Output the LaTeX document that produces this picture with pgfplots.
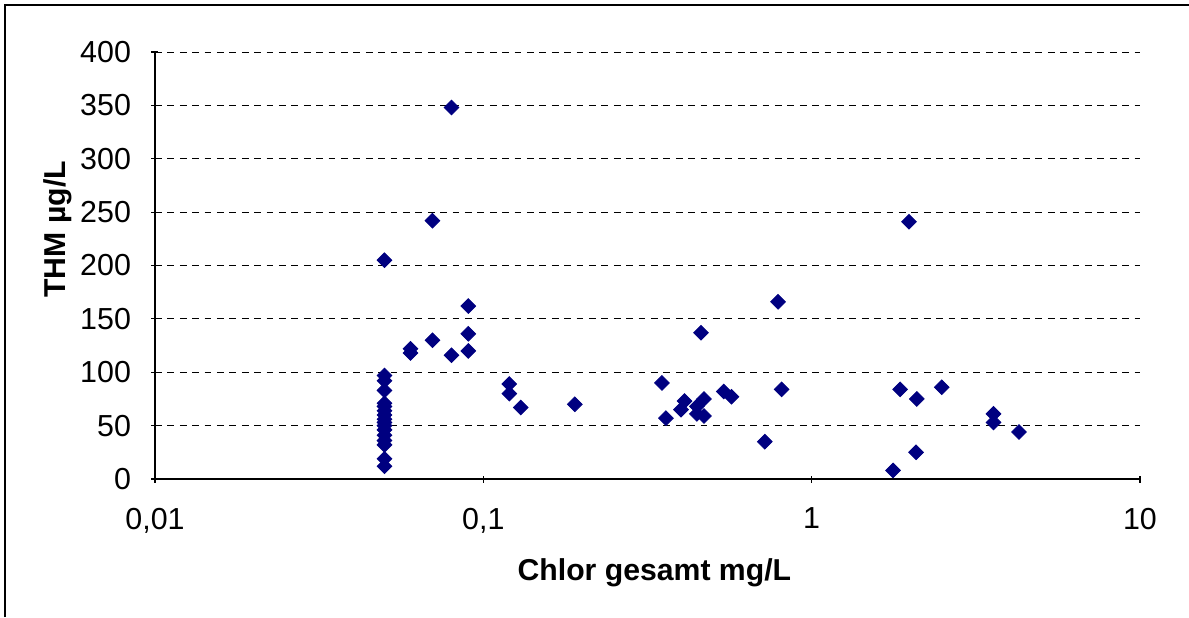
\documentclass[border=0pt]{standalone}
\usepackage{pgfplots}
\pgfplotsset{compat=1.18}
\usepackage{fontspec}
\setmainfont{Liberation Sans}
\definecolor{navy}{RGB}{0,0,128}
\begin{document}
\begin{tikzpicture}[x=0.5pt,y=0.5pt]
\useasboundingbox (-155,-138) rectangle (1034,479);
\draw[line width=0.8pt] (-150,-138) -- (-150,474) -- (1034,474);
\begin{axis}[
  at={(0pt,0pt)}, anchor=south west,
  scale only axis, width=492.5pt, height=213.5pt,
  xmode=log, xmin=0.01, xmax=10, ymin=0, ymax=400,
  xtick={0.01,0.1,1,10}, xticklabels={{0,01},{0,1},1,10},
  xminorticks=false,
  ytick={0,50,...,400},
  /pgf/number format/assume math mode=true,
  axis x line*=bottom, axis y line*=left,
  axis line style={-, line width=0.6pt},
  tick style={black, line width=0.6pt},
  major tick length=3.5pt,
  xtick pos=bottom, ytick pos=left,
  x tick style={yshift=-1.75pt},
  y tick style={xshift=-1.75pt},
  ymajorgrids, major grid style={black, line width=0.5pt, dash pattern=on 3.4pt off 2.8pt},
  tick label style={font=\fontsize{15.2}{17}\selectfont},
  xticklabel style={yshift=-11pt},
  yticklabel style={xshift=-8.5pt},
  xlabel={\bfseries Chlor gesamt mg/L},
  ylabel={\bfseries THM µg/L},
  label style={font=\fontsize{15.1}{17}\selectfont},
  xlabel style={at={(axis description cs:0.507,-0.22)}, anchor=center},
  ylabel style={at={(axis description cs:-0.099,0.585)}, anchor=center, rotate=0},
  clip=false,
]
\addplot[only marks, mark=square*, mark size=2.6pt, color=navy, mark options={rotate=45, fill=navy, draw=navy}] coordinates {
(0.05,97) (0.05,92) (0.05,83) (0.05,71) (0.05,68) (0.05,64) (0.05,60) (0.05,56) (0.05,53) (0.05,50) (0.05,46) (0.05,41) (0.05,36) (0.05,32) (0.05,19) (0.05,12) (0.05,205)
(0.06,118) (0.06,122)
(0.07,242) (0.07,130)
(0.08,348) (0.08,116)
(0.09,162) (0.09,136) (0.09,120)
(0.12,89) (0.12,80) (0.13,67)
(0.19,70)
(0.35,90) (0.36,57) (0.40,65) (0.41,73)
(0.447,68) (0.447,61) (0.47,75) (0.47,59) (0.46,137)
(0.54,82) (0.57,77)
(0.72,35) (0.79,166) (0.81,84)
(1.77,8) (1.86,84) (1.98,241) (2.08,25) (2.09,75) (2.49,86)
(3.58,61) (3.58,53) (4.28,44)
};
\end{axis}
\end{tikzpicture}
\end{document}
